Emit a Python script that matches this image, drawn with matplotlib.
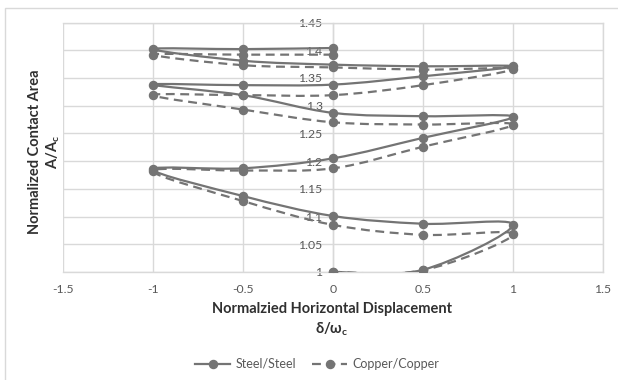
import matplotlib
matplotlib.use("Agg")
import matplotlib.pyplot as plt
from matplotlib.path import Path
from matplotlib.patches import PathPatch, Rectangle
from matplotlib.lines import Line2D
import numpy as np

plt.rcParams['font.family'] = ['Lato', 'DejaVu Sans']
plt.rcParams['mathtext.fontset'] = 'custom'
plt.rcParams['mathtext.rm'] = 'Lato'
plt.rcParams['mathtext.bf'] = 'Lato:bold'
plt.rcParams['mathtext.it'] = 'Lato:italic'

# ---- data ----
steel_x = [0, 0.5, 1, 0.5, 0, -0.5, -1, -0.5, 0, 0.5, 1, 0.5, 0, -0.5, -1, -0.5, 0, 0.5, 1, 0.5, 0, -0.5, -1, -0.5, 0]
steel_y = [1.000, 1.004, 1.085, 1.087, 1.101, 1.137, 1.185, 1.187, 1.205, 1.242, 1.280, 1.281, 1.287,
           1.319, 1.338, 1.337, 1.338, 1.353, 1.371, 1.371, 1.374, 1.381, 1.402, 1.402, 1.404]
copper_x = [0, 0.5, 1, 0.5, 0, -0.5, -1, -0.5, 0, 0.5, 1, 0.5, 0, -0.5, -1, -0.5, 0, 0.5, 1, 0.5, 0, -0.5, -1, -0.5, 0]
copper_y = [1.000, 1.003, 1.068, 1.067, 1.085, 1.128, 1.182, 1.183, 1.187, 1.226, 1.266, 1.266, 1.270,
            1.293, 1.319, 1.319, 1.319, 1.337, 1.366, 1.365, 1.369, 1.373, 1.392, 1.392, 1.392]
series_names = ["Steel/Steel", "Copper/Copper"]
x_ticks = [-1.5, -1, -0.5, 0, 0.5, 1, 1.5]
y_ticks = [1, 1.05, 1.1, 1.15, 1.2, 1.25, 1.3, 1.35, 1.4, 1.45]

GRAY = '#747474'
GRID = '#d9d9d9'
TXT = '#595959'


def smooth_path(xs, ys):
    P = np.column_stack([xs, ys]).astype(float)
    n = len(P)
    verts = [P[0]]
    codes = [Path.MOVETO]
    for i in range(n - 1):
        p0 = P[i - 1] if i > 0 else P[i]
        p1 = P[i]
        p2 = P[i + 1]
        p3 = P[i + 2] if i + 2 < n else P[i + 1]
        c1 = p1 + (p2 - p0) / 6.0
        c2 = p2 - (p3 - p1) / 6.0
        verts += [c1, c2, p2]
        codes += [Path.CURVE4] * 3
    return Path(verts, codes)


fig = plt.figure(figsize=(6.18, 3.80), dpi=100)
# outer chart border
fig.add_artist(Rectangle((5 / 618, -0.1), 1.2, 1 - 8 / 380 + 0.1, transform=fig.transFigure,
                         fill=False, edgecolor=GRID, linewidth=1.0))

ax = fig.add_axes([63 / 618, 1 - 272 / 380, (603 - 63) / 618, (272 - 22.5) / 380])
ax.set_xlim(-1.5, 1.5)
ax.set_ylim(1.0, 1.45)
ax.set_xticks(x_ticks)
ax.set_yticks(y_ticks)
ax.set_xticklabels([f"{v:g}" for v in x_ticks])
ax.set_yticklabels([f"{v:g}" for v in y_ticks])
ax.grid(True, color=GRID, linewidth=1.0)
ax.set_axisbelow(True)
for s in ['top', 'right', 'bottom']:
    ax.spines[s].set_color(GRID)
    ax.spines[s].set_linewidth(1.0)
ax.spines['left'].set_position(('data', 0))
ax.spines['left'].set_color(GRID)
ax.spines['left'].set_linewidth(1.0)
ax.tick_params(axis='both', length=0, labelsize=8.8, labelcolor=TXT)
ax.tick_params(axis='y', pad=7.5)
ax.tick_params(axis='x', pad=8.5)

lw = 1.6
ax.add_patch(PathPatch(smooth_path(steel_x, steel_y), fill=False, edgecolor=GRAY, linewidth=lw,
                       capstyle='round', zorder=3))
ax.add_patch(PathPatch(smooth_path(copper_x, copper_y), fill=False, edgecolor=GRAY, linewidth=lw,
                       linestyle=(0, (4, 2.5)), zorder=3))
ax.plot(steel_x, steel_y, linestyle='none', marker='o', markersize=5.8, color=GRAY, zorder=4)
ax.plot(copper_x, copper_y, linestyle='none', marker='o', markersize=5.8, color=GRAY, zorder=4)

# axis titles
TFS = 10.5
fig.text(35 / 618, 1 - 152 / 380, "Normalized Contact Area", rotation=90, ha='center', va='center',
         fontsize=TFS, fontweight='bold', color='#303030')
fig.text(53 / 618, 1 - 152 / 380, r"$\mathbf{A/A_c}$", rotation=90, ha='center', va='center',
         fontsize=TFS, color='#303030')
fig.text(332 / 618, 1 - 309 / 380, "Normalzied Horizontal Displacement", ha='center', va='center',
         fontsize=TFS, fontweight='bold', color='#303030')
fig.text(332 / 618, 1 - 329 / 380, r"$\mathbf{\delta/\omega_c}$", ha='center', va='center',
         fontsize=TFS, color='#303030')

handles = [Line2D([], [], color=GRAY, lw=lw, marker='o', markersize=5.8),
           Line2D([], [], color=GRAY, lw=lw, marker='o', markersize=5.8, linestyle=(0, (4, 2.5)))]
fig.legend(handles, series_names, loc='center', bbox_to_anchor=(317 / 618, 1 - 364 / 380), ncol=2,
           frameon=False, fontsize=9, labelcolor=TXT, handlelength=2.8, columnspacing=1.3,
           handletextpad=0.4)

fig.savefig("out.png", dpi=100)
